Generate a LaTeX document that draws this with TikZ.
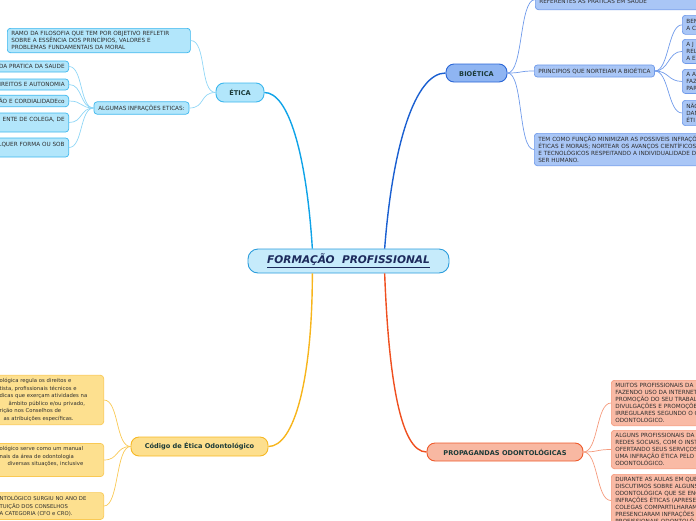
\documentclass[tikz,border=0pt]{standalone}
\usepackage{fontspec}
\setmainfont{DejaVu Sans}
\definecolor{rootfill}{HTML}{C6EBFB}
\definecolor{rootdraw}{HTML}{2B9DDC}
\definecolor{roottext}{HTML}{1C2A5C}
\definecolor{topictext}{HTML}{1B3A38}
\definecolor{leaftext}{HTML}{2E2E2E}
\definecolor{eticamain}{HTML}{0FA3E8}
\definecolor{eticafill}{HTML}{B2E6FB}
\definecolor{eticadraw}{HTML}{3CB7EE}
\definecolor{eticaleaf}{HTML}{90D6F6}
\definecolor{biomain}{HTML}{1A5FD1}
\definecolor{biofill}{HTML}{8FB5F2}
\definecolor{biodraw}{HTML}{2A66D6}
\definecolor{bioleaffill}{HTML}{A9C6F6}
\definecolor{bioleafdraw}{HTML}{6F9AEA}
\definecolor{codmain}{HTML}{F7B51C}
\definecolor{codfill}{HTML}{FDDF8E}
\definecolor{coddraw}{HTML}{F6B824}
\definecolor{codleaffill}{HTML}{FDE08F}
\definecolor{codleafdraw}{HTML}{F9C954}
\definecolor{propmain}{HTML}{EF4F1F}
\definecolor{propfill}{HTML}{F8B8A2}
\definecolor{propdraw}{HTML}{EE5A2B}
\definecolor{propleaffill}{HTML}{F9BAA5}
\definecolor{propleafdraw}{HTML}{F59A7C}
\tikzset{
  root/.style={draw=rootdraw, fill=rootfill, line width=0.9pt, rounded corners=10pt,
    minimum width=201pt, minimum height=24pt, text=roottext,
    font=\fontsize{10.6}{12}\selectfont\bfseries\itshape},
  topic/.style={line width=0.9pt, rounded corners=8pt, text=topictext,
    font=\fontsize{6.6}{8}\selectfont\bfseries},
  leaf/.style={line width=0.7pt, rounded corners=3pt, text=leaftext, align=left,
    inner xsep=4pt, inner ysep=3pt, font=\fontsize{5.7}{7}\selectfont},
  eticaleafbox/.style={leaf, draw=eticadraw, fill=eticafill},
  bioleafbox/.style={leaf, draw=bioleafdraw, fill=bioleaffill},
  codleafbox/.style={leaf, draw=codleafdraw, fill=codleaffill,
    font=\fontsize{5.3}{7.6}\selectfont},
  propleafbox/.style={leaf, draw=propleafdraw, fill=propleaffill},
  mainline/.style={line width=1.4pt},
  leafline/.style={line width=0.7pt}
}
\begin{document}
\begin{tikzpicture}[x=1pt,y=-1pt]
\useasboundingbox (0,0) rectangle (696,520);
\clip (0,0) rectangle (696,520);
% central topic and main branches
\node[root] (fp) at (348.5,261) {\underline{FORMAÇÃO\ \ PROFISSIONAL}};
\node[topic, draw=eticadraw, fill=eticafill, minimum width=48pt, minimum height=19pt]
  (etica) at (240,92.5) {ÉTICA};
\node[topic, draw=biodraw, fill=biofill, minimum width=61pt, minimum height=18pt]
  (bio) at (476.5,73) {BIOÉTICA};
\node[topic, draw=coddraw, fill=codfill, minimum width=137pt, minimum height=19pt]
  (cod) at (199.5,446.5) {Código de Ética Odontológico};
\node[topic, draw=propdraw, fill=propfill, minimum width=156pt, minimum height=18pt]
  (prop) at (505,452) {PROPAGANDAS ODONTOLÓGICAS};
\draw[mainline, eticamain] (fp.161) .. controls +(-6,-95) and +(24,0) .. (etica.east);
\draw[mainline, biomain] (fp.19) .. controls +(8,-105) and +(-30,0) .. (bio.west);
\draw[mainline, codmain] (fp.199) .. controls +(0,105) and +(26,0) .. (cod.east);
\draw[mainline, propmain] (fp.341) .. controls +(4,105) and +(-26,0) .. (prop.west);
% etica
\node[eticaleafbox, anchor=north west, text width=175pt] (ramo) at (7,28)
  {RAMO DA FILOSOFIA QUE TEM POR OBJETIVO REFLETIR\\
   SOBRE A ESSÊNCIA DOS PRINCÍPIOS, VALORES E\\
   PROBLEMAS FUNDAMENTAIS DA MORAL};
\node[eticaleafbox, minimum width=95pt, minimum height=12pt] (infra) at (141.5,108)
  {ALGUMAS INFRAÇÕES ETICAS:};
\node[eticaleafbox, anchor=east, text width=90pt, align=right, minimum height=11pt]
  (e1) at (69,66.5) {DA PRATICA DA SAUDE};
\node[eticaleafbox, anchor=east, text width=90pt, align=right, minimum height=11pt]
  (e2) at (69,84.5) {DIREITOS E AUTONOMIA};
\node[eticaleafbox, anchor=east, text width=90pt, align=right, minimum height=11pt]
  (e3) at (69,101) {ÃO E CORDIALIDADEco};
\node[eticaleafbox, anchor=east, text width=90pt, align=right, minimum height=19pt]
  (e4) at (69,122.5) {ENTE DE COLEGA, DE\hspace{8pt}\\ \mbox{}};
\node[eticaleafbox, anchor=east, text width=90pt, align=right, minimum height=19pt]
  (e5) at (69,147.5) {LQUER FORMA OU SOB\hspace{3pt}\\ \mbox{}};
\draw[leafline, eticaleaf] (etica.west) .. controls +(-16,0) and +(16,0) .. (ramo.east);
\draw[leafline, eticaleaf] (etica.west) .. controls +(-16,0) and +(16,0) .. (infra.east);
\foreach \n in {e1,e2,e3,e4,e5}
  \draw[leafline, eticaleaf] (infra.west) .. controls +(-14,0) and +(14,0) .. (\n.east);
% bioetica
\node[bioleafbox, anchor=south west, text width=180pt, minimum height=20pt] (b0) at (535,10)
  {\mbox{}\\REFERENTES AS PRATICAS EM SAUDE};
\node[bioleafbox, anchor=west, minimum height=12pt] (b1) at (534,71)
  {PRINCIPIOS QUE NORTEIAM A BIOÉTICA};
\node[bioleafbox, anchor=north west, text width=180pt] (b2) at (534,133)
  {TEM COMO FUNÇÃO MINIMIZAR AS POSSIVEIS INFRAÇÕ\\
   ÉTICAS E MORAIS; NORTEAR OS AVANÇOS CIENTÍFICOS\\
   E TECNOLÓGICOS RESPEITANDO A INDIVIDUALIDADE D\\
   SER HUMANO.};
\node[bioleafbox, anchor=north west, text width=40pt, minimum height=19pt] (p1) at (682,15)
  {BEN\\A C};
\node[bioleafbox, anchor=north west, text width=40pt] (p2) at (682,39)
  {A J\\REL\\A E};
\node[bioleafbox, anchor=north west, text width=40pt] (p3) at (682,69)
  {A A\\FAZ\\PAR};
\node[bioleafbox, anchor=north west, text width=40pt] (p4) at (682,100)
  {NÃO\\DAN\\ÉTI};
\foreach \n in {b0,b1,b2}
  \draw[leafline, bioleafdraw] (bio.east) .. controls +(16,0) and +(-16,0) .. (\n.west);
\foreach \n in {p1,p2,p3,p4}
  \draw[leafline, bioleafdraw] (b1.east) .. controls +(14,0) and +(-14,0) .. (\n.west);
% codigo de etica
\node[codleafbox, anchor=east, text width=100pt] (c1) at (104,400)
  {ológica regula os direitos e\\
   tista, profissionais técnicos e\\
   dicas que exerçam atividades na\\
   \hspace{9pt}âmbito público e/ou privado,\\
   rição nos Conselhos de\\
   \hspace{4pt}as atribuições específicas.};
\node[codleafbox, anchor=east, text width=100pt] (c2) at (104,460)
  {ológico serve como um manual\\
   nais da área de odontologia\\
   \hspace{8pt}diversas situações, inclusive\\ \mbox{}};
\node[codleafbox, anchor=east, text width=100pt] (c3) at (104,506)
  {NTOLÓGICO SURGIU NO ANO DE\\
   TUIÇÃO DOS CONSELHOS\\
   A CATEGORIA (CFO e CRO).};
\foreach \n in {c1,c2,c3}
  \draw[leafline, codleafdraw] (cod.west) .. controls +(-15,0) and +(15,0) .. (\n.east);
% propagandas
\node[propleafbox, anchor=north west, text width=150pt] (q1) at (611,380)
  {MUITOS PROFISSIONAIS DA\\
   FAZENDO USO DA INTERNET\\
   PROMOÇÃO DO SEU TRABALH\\
   DIVULGAÇÕES E PROMOÇÕES\\
   IRREGULARES SEGUNDO O C\\
   ODONTOLOGICO.};
\node[propleafbox, anchor=north west, text width=150pt] (q2) at (611,430)
  {ALGUNS PROFISSIONAIS DA\\
   REDES SOCIAIS, COM O INST\\
   OFERTANDO SEUS SERVIÇOS\\
   UMA INFRAÇÃO ÉTICA PELO C\\
   ODONTOLÓGICO.};
\node[propleafbox, anchor=north west, text width=150pt] (q3) at (611,474)
  {DURANTE AS AULAS EM QUE\\
   DISCUTIMOS SOBRE ALGUNS\\
   ODONTOLÓGICA QUE SE ENC\\
   INFRAÇÕES ÉTICAS (APRESE\\
   COLEGAS COMPARTILHARAM\\
   PRESENCIARAM INFRAÇÕES\\
   PROFISSIONAIS ODONTOLÓ};
\foreach \n in {q1,q2,q3}
  \draw[leafline, propleafdraw] (prop.east) .. controls +(15,0) and +(-15,0) .. (\n.west);
\end{tikzpicture}
\end{document}
